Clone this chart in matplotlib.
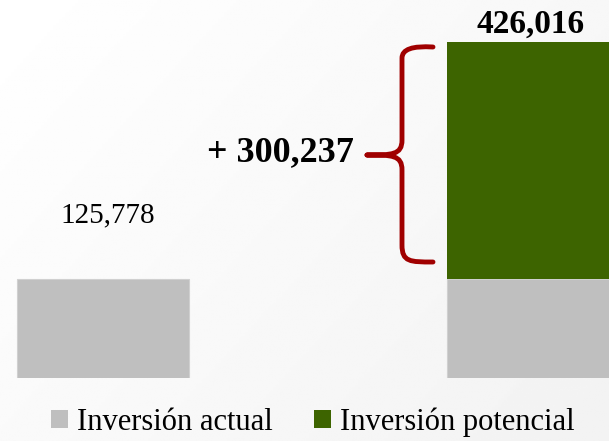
import matplotlib.pyplot as plt
import numpy as np
from matplotlib.path import Path
from matplotlib.patches import PathPatch, Patch
from matplotlib.font_manager import FontProperties

categories = ["Inversión actual", "Inversión potencial"]
actual = [125778, 125778]
extra = [0, 300237]
totals = [125778, 426016]

GRAY = "#BFBFBF"
GREEN = "#3D6400"
BRACE = "#A00000"

plt.rcParams["font.family"] = ["Liberation Serif", "DejaVu Serif"]

fig = plt.figure(figsize=(6.09, 4.41), dpi=100)

# soft background gradient
bg = fig.add_axes([0, 0, 1, 1], zorder=0)
gx, gy = np.meshgrid(np.linspace(0, 1, 200), np.linspace(0, 1, 200))
bg.imshow(1.0 - 0.05 * (0.6 * gx + 0.4 * gy), cmap="gray", vmin=0, vmax=1,
          extent=[0, 1, 0, 1], aspect="auto", origin="upper")
bg.axis("off")


def px(x):
    # horizontal pixel -> data x (bar centres at 103 px and 533 px)
    return (x - 103) / 430


ax = fig.add_axes([0, 63 / 441, 1, 336 / 441], zorder=1)
ax.patch.set_alpha(0)
pos = [0, 1]
ax.bar(pos, actual, width=0.4, color=GRAY, edgecolor="#D0D0D0", linewidth=0.8)
ax.bar(pos, extra, width=0.4, bottom=actual, color=GREEN)
ax.set_xlim(px(0), px(609))
ax.set_ylim(0, 426016)
ax.axis("off")

ax.text(0.01, 125778 + 81000, f"{totals[0]:,}", ha="center", va="center",
        fontsize=21)
ax.text(1 - 0.005, totals[1] + 2500, f"{totals[1]:,}", ha="center",
        va="bottom", fontsize=24, fontweight="bold", clip_on=False)

# curly brace next to the green segment
v = lambda y: (378 - y) / 336 * 426016
verts = [
    (px(433), v(47)), (px(402), v(45)), (px(402), v(58)), (px(402), v(75)),
    (px(402), v(140)),
    (px(402), v(155)), (px(392), v(155)), (px(367), v(155)),
    (px(392), v(155)), (px(402), v(155)), (px(402), v(170)),
    (px(402), v(245)),
    (px(402), v(262)), (px(410), v(262)), (px(433), v(262)),
]
codes = [Path.MOVETO, Path.CURVE3, Path.CURVE3, Path.LINETO, Path.LINETO,
         Path.CURVE4, Path.CURVE4, Path.CURVE4,
         Path.CURVE4, Path.CURVE4, Path.CURVE4,
         Path.LINETO,
         Path.CURVE4, Path.CURVE4, Path.CURVE4]
ax.add_patch(PathPatch(Path(verts, codes), facecolor="none", edgecolor=BRACE,
                       linewidth=3.5, capstyle="round", joinstyle="round",
                       clip_on=False))
ax.text(px(354), v(153), f"+ {extra[1]:,}", ha="right", va="center",
        fontsize=26, fontweight="bold")

handles = [Patch(facecolor=GRAY), Patch(facecolor=GREEN)]
legend_font = FontProperties(family=["Liberation Serif", "DejaVu Serif"], size=22)
fig.legend(handles, categories, loc="center", bbox_to_anchor=(313 / 609, 19 / 441),
           ncol=2, frameon=False, prop=legend_font, handlelength=0.55,
           handleheight=0.55, handletextpad=0.3, columnspacing=1.35,
           borderpad=0, borderaxespad=0)

fig.savefig("out.png", dpi=100)
